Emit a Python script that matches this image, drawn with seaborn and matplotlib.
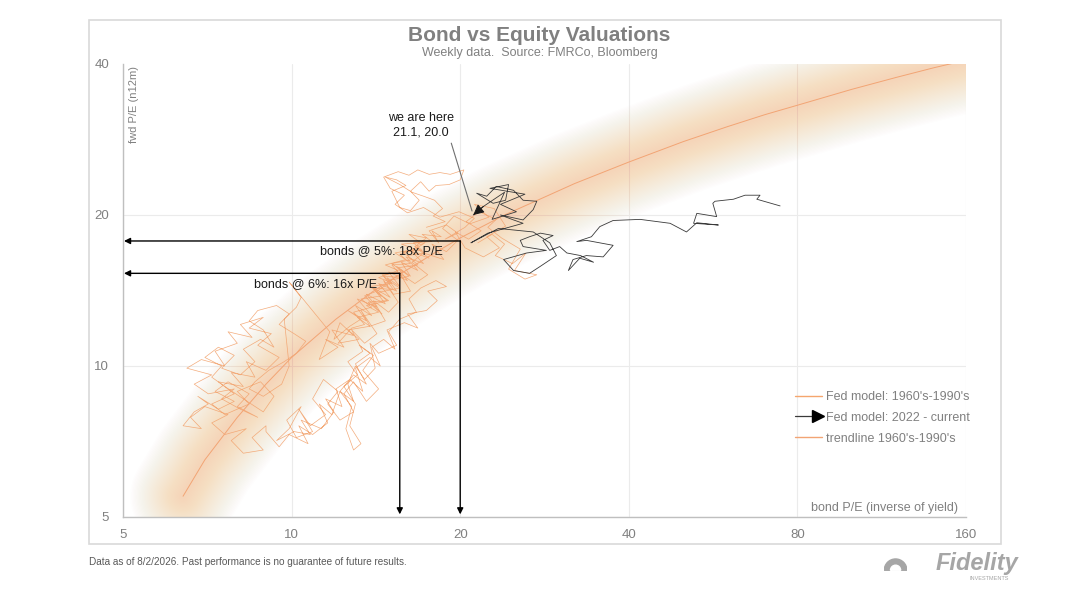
import numpy as np
import matplotlib
matplotlib.use("Agg")
import matplotlib.pyplot as plt
import seaborn as sns
from matplotlib.lines import Line2D
from matplotlib.patches import Rectangle, Wedge
from matplotlib.ticker import NullLocator
from matplotlib.legend_handler import HandlerLine2D

# ---- values (bond P/E = 1/yield, fwd P/E) ----
trend_x = [6.4, 7, 8, 9, 10, 12, 14, 16, 18, 20, 24, 28, 32, 40, 50, 60, 70, 80, 100, 120, 140, 160]
trend_y = [5.5, 6.5, 7.9, 9.2, 10.4, 12.4, 14.1, 15.5, 16.8, 18.0, 20.0, 21.6, 23.1, 25.5,
           28.0, 30.0, 31.7, 33.1, 35.6, 37.6, 39.3, 40.7]

fed60_x = [21.5, 22.8, 24.0, 23.1, 24.8, 26.2, 25.0, 27.4, 26.1, 24.4, 25.6, 23.7, 22.4, 23.2, 21.6, 20.5, 21.8,
           20.7, 19.6, 20.4, 22.0, 23.5, 22.3, 24.1, 23.0, 21.2, 22.5, 20.8, 19.5, 18.6, 19.8, 18.9, 17.8, 18.7]
fed60_y = [17.6, 18.3, 17.5, 16.6, 16.0, 16.8, 15.5, 15.2, 14.9, 15.6, 17.1, 18.0, 18.9, 19.6, 20.3, 19.4, 18.6,
           17.9, 18.5, 17.2, 16.5, 17.2, 18.1, 19.0, 20.6, 21.0, 19.8, 19.2, 19.9, 18.8, 17.8, 16.9, 17.5, 16.3]

fed70_x = [17.2, 16.4, 17.5, 16.6, 15.6, 16.3, 15.2, 14.6, 15.5, 14.9, 14.0, 14.7, 13.8, 13.3, 14.2, 13.5, 12.8, 13.4,
           12.6, 13.1, 12.4, 13.0, 12.7, 13.3, 12.9, 12.5, 12.8, 12.2, 12.9, 13.6, 13.0, 13.8, 13.2, 14.0, 13.4, 14.3,
           13.6, 12.9, 12.4, 12.9, 12.2, 11.6, 12.1, 11.4, 10.9, 11.5, 10.8, 10.3, 10.9, 10.2, 9.8, 10.4, 9.9, 9.4]
fed70_y = [16.8, 16.1, 15.2, 14.6, 15.3, 14.1, 13.9, 14.8, 13.4, 12.8, 13.5, 12.3, 12.0, 12.9, 11.6, 11.1, 11.8, 10.7,
           10.2, 9.6, 9.1, 8.4, 7.6, 7.0, 6.8, 7.5, 8.3, 8.9, 9.6, 9.2, 10.1, 10.6, 11.0, 10.5, 9.8, 9.0,
           8.5, 9.3, 8.8, 8.1, 7.8, 8.4, 8.9, 9.4, 8.6, 8.0, 7.6, 8.2, 7.4, 7.2, 7.8, 8.3, 7.5, 7.1]

fed77_x = [10.1, 10.8, 10.4, 11.3, 11.9, 11.5, 12.3, 12.0, 12.7, 13.4, 13.0, 13.8, 14.4, 13.9, 14.6, 15.3, 14.8, 15.9,
           16.8, 16.1, 17.4, 18.2, 17.5, 18.9, 18.1, 17.0, 16.2, 16.7, 15.6, 14.9, 15.4, 14.3, 13.8, 14.1, 13.5, 13.0,
           12.6, 12.9, 12.2, 11.8, 11.2, 11.6, 10.9, 10.3, 10.7, 9.9, 9.5, 9.0]
fed77_y = [7.4, 7.3, 7.8, 7.5, 8.1, 8.6, 8.3, 9.0, 9.4, 8.9, 9.9, 10.4, 10.0, 10.9, 11.3, 10.8, 11.8, 12.2,
           11.9, 12.7, 12.9, 13.5, 14.1, 14.4, 14.8, 14.3, 13.6, 12.8, 12.4, 11.7, 11.0, 10.6, 11.1, 9.9, 9.4, 10.0,
           9.2, 8.5, 8.9, 8.0, 8.4, 7.7, 7.3, 7.6, 7.0, 7.3, 6.9, 7.4]

fed80_x = [9.0, 8.5, 8.9, 8.2, 7.8, 8.3, 7.6, 7.2, 7.7, 7.0, 6.6, 6.9, 6.4, 6.7, 7.1, 6.8, 7.4, 7.9, 7.3, 7.7,
           8.4, 8.0, 8.7]
fed80_y = [7.6, 7.2, 6.8, 6.7, 7.1, 7.5, 7.3, 7.7, 8.0, 8.3, 7.9, 7.5, 7.6, 8.1, 8.4, 8.7, 8.2, 8.5, 8.9, 9.3,
           8.8, 8.3, 7.9]

fed82_x = [8.1, 7.5, 7.9, 7.1, 6.7, 7.2, 6.5, 6.9, 7.6, 7.3, 8.0, 7.7, 8.5, 8.1, 8.9, 8.4, 9.2, 8.7, 9.5, 9.0,
           8.3, 8.6, 7.8, 8.2, 7.4, 7.9, 7.2, 7.6, 8.4, 8.0, 8.8, 9.3, 8.9, 8.2]
fed82_y = [8.2, 8.6, 9.0, 8.8, 9.2, 9.6, 9.9, 10.3, 10.0, 10.7, 11.1, 11.7, 11.4, 12.1, 12.5, 11.9, 11.6, 11.0,
           10.4, 9.8, 10.2, 9.5, 9.7, 9.1, 9.3, 8.8, 8.4, 8.0, 8.4, 8.9, 9.3, 8.7, 8.1, 8.6]

fed85_x = [8.2, 7.6, 7.2, 7.5, 7.0, 7.4, 7.9, 7.5, 8.1, 8.6, 8.2, 8.8, 9.3, 8.9, 8.4, 8.7, 9.4, 9.9, 9.5, 10.1,
           10.6, 10.2, 9.7, 9.1, 8.6, 8.4, 8.9, 9.6, 9.9, 9.7, 10.2, 10.4, 9.9, 11.7]
fed85_y = [8.6, 9.1, 9.5, 10.0, 10.4, 10.9, 10.5, 9.9, 9.6, 10.2, 10.8, 11.3, 10.9, 11.8, 12.3, 12.9, 13.2, 12.7,
           12.1, 11.6, 11.2, 10.6, 10.2, 9.8, 9.3, 9.0, 8.7, 9.2, 10.0, 12.4, 13.1, 13.7, 14.7, 11.7]

fed88_x = [11.2, 12.1, 11.5, 12.4, 11.8, 12.9, 12.2, 11.9, 12.7, 13.3, 12.6, 13.6, 13.0, 13.9, 13.1, 14.2, 13.6, 14.7,
           14.0, 15.0, 14.3, 15.4, 14.8, 15.6, 14.9, 16.1, 15.4, 16.3, 15.7, 16.8, 16.0, 17.2, 16.4, 17.6, 16.6, 17.3,
           16.5, 15.6, 16.3, 15.1, 15.8, 14.6, 15.2, 14.0, 14.8, 13.7, 14.5, 13.5, 14.2, 15.0, 14.3, 15.5, 14.7, 16.0,
           15.3, 16.6, 15.7, 17.0, 16.2, 17.4]
fed88_y = [10.3, 10.9, 11.3, 10.9, 11.8, 11.5, 12.2, 11.3, 12.0, 12.4, 12.9, 12.3, 13.2, 12.6, 13.6, 13.1, 13.9, 13.3,
           14.3, 13.7, 14.6, 14.1, 15.0, 14.4, 15.4, 14.8, 15.8, 15.1, 16.1, 15.5, 16.5, 16.0, 16.9, 16.4, 17.3, 17.6,
           17.0, 16.7, 16.0, 15.9, 15.0, 15.1, 14.2, 14.3, 13.5, 13.4, 12.7, 13.8, 14.1, 14.7, 15.0, 15.5, 15.9, 16.3,
           16.8, 17.1, 17.5, 17.6, 18.3, 18.0]

fed93_x = [16.6, 17.3, 16.1, 16.8, 15.5, 16.2, 14.9, 15.6, 14.2, 14.9, 13.6, 14.3, 13.1, 13.8, 12.6, 13.2, 12.1, 12.8,
           13.5, 12.9, 13.9, 13.3, 14.5, 13.8, 15.1, 14.5, 15.8, 15.1, 16.4, 15.8, 17.1, 16.5, 17.8, 17.1, 18.5, 17.8]
fed93_y = [17.3, 16.8, 16.6, 15.9, 15.7, 15.1, 14.8, 14.3, 14.0, 13.5, 13.2, 12.8, 12.5, 12.0, 11.8, 11.3, 11.1, 11.9,
           12.1, 12.8, 13.1, 13.6, 13.8, 14.4, 14.6, 15.2, 15.4, 16.0, 16.3, 16.9, 17.0, 17.6, 17.7, 18.3, 18.1, 18.6]

fed95_x = [18.3, 17.6, 18.9, 19.8, 18.8, 20.4, 21.2, 19.9, 18.4, 17.2, 16.1, 15.3, 15.9, 15.0, 14.6, 15.5, 16.2, 16.8,
           17.6, 18.4, 19.2, 20.3, 20.0, 19.1, 18.1, 17.6, 17.0, 16.3, 16.9, 16.3, 15.6, 15.1, 16.0, 15.4, 14.7, 15.6,
           16.4, 17.2, 18.0, 18.6, 17.9, 18.8, 17.4]
fed95_y = [17.6, 18.6, 19.1, 18.4, 17.9, 18.9, 19.7, 20.3, 19.8, 20.7, 20.2, 21.0, 21.9, 22.6, 23.8, 24.4, 24.0, 24.6,
           24.1, 24.3, 24.1, 24.6, 23.5, 23.0, 22.9, 22.3, 23.3, 22.3, 21.4, 20.4, 20.7, 22.3, 22.9, 23.5, 23.8, 23.0,
           22.2, 21.8, 21.4, 20.6, 19.9, 19.4, 18.9]

now_x = [74.5, 67.7, 68.6, 64.5, 61.5, 57.0, 56.5, 57.4, 52.9, 52.2, 57.8, 52.9, 50.7, 47.4, 41.9, 37.5, 35.5, 34.3,
         32.3, 33.6, 37.5, 36.0, 33.6, 31.8, 31.2, 32.7, 34.6, 32.8, 31.0, 30.1, 28.9, 28.1, 29.3, 27.8, 26.6, 25.6,
         25.9, 28.5, 26.3, 23.9, 24.9, 26.6, 27.8, 29.7, 28.9, 27.0, 23.4, 20.9, 22.4, 25.9, 24.9, 23.6, 25.9, 27.0,
         27.4, 25.9, 24.9, 23.2, 22.3, 21.4, 22.9, 24.1, 24.4, 22.6, 26.1, 23.6, 25.2, 22.8, 24.0, 22.0, 21.1]
now_y = [20.85, 21.5, 21.9, 21.9, 21.5, 21.3, 21.1, 19.85, 20.15, 19.25, 19.1, 19.3, 18.5, 19.25, 19.6, 19.5, 18.96,
         18.1, 17.7, 17.8, 17.4, 16.5, 16.6, 16.3, 15.5, 16.4, 16.1, 16.6, 16.8, 17.3, 17.0, 17.8, 18.2, 18.4, 18.1,
         17.8, 17.3, 17.0, 16.8, 16.3, 15.5, 15.3, 15.8, 16.6, 17.6, 18.5, 18.8, 17.6, 18.4, 19.25, 19.55, 20.0, 19.55,
         20.5, 21.3, 21.4, 22.4, 22.8, 21.8, 22.1, 21.1, 21.4, 23.0, 22.6, 22.0, 21.0, 20.3, 19.6, 22.2, 20.8, 20.0]

# guide arrows (as drawn on the chart)
bonds5_x, bonds5_y = 20.0, 17.75
bonds6_x, bonds6_y = 15.6, 15.3

x_ticks = [5, 10, 20, 40, 80, 160]
y_ticks = [5, 10, 20, 40]

fed_x = fed60_x + fed70_x + fed77_x + fed80_x + fed82_x + fed85_x + fed88_x + fed93_x + fed95_x
fed_y = fed60_y + fed70_y + fed77_y + fed80_y + fed82_y + fed85_y + fed88_y + fed93_y + fed95_y

GRAY = "#808080"
ORANGE = "#F2A36E"
GLOW = "#F5A66E"
TREND = "#F2A474"
BLACK_LINE = "#3a3a3a"


class ArrowLineHandler(HandlerLine2D):
    def create_artists(self, legend, orig_handle, xdescent, ydescent, width, height, fontsize, trans):
        y = (height - ydescent) / 2.0
        line = Line2D([-xdescent, width - xdescent], [y, y], color=BLACK_LINE, lw=0.9)
        tip = Line2D([width - xdescent - 3], [y], marker='>', markersize=8, color='black', linestyle='None')
        line.set_transform(trans)
        tip.set_transform(trans)
        return [line, tip]


sns.set_theme(style="white")
plt.rcParams['font.family'] = ['Liberation Sans', 'DejaVu Sans']

fig = plt.figure(figsize=(10.79, 6.07), dpi=100)
fig.patches.append(Rectangle((0.0825, 0.1038), 0.845, 0.863, transform=fig.transFigure,
                             fill=False, edgecolor="#d9d9d9", lw=1.2))

ax = fig.add_axes([0.114, 0.1483, 0.7813, 0.7463])
ax.set_xscale('log', base=2)
ax.set_yscale('log', base=2)
ax.set_xlim(5, 160)
ax.set_ylim(5, 40)

# soft, wide band around the trendline
for w in np.linspace(76, 4, 40):
    ax.plot(trend_x, trend_y, color=GLOW, lw=w, alpha=0.011, solid_capstyle='round', zorder=1)

sns.lineplot(x=fed_x, y=fed_y, sort=False, estimator=None, color=ORANGE, lw=0.5, alpha=0.9, ax=ax, zorder=3)
sns.lineplot(x=trend_x, y=trend_y, sort=False, estimator=None, color=TREND, lw=0.7, ax=ax, zorder=4)
sns.lineplot(x=now_x, y=now_y, sort=False, estimator=None, color=BLACK_LINE, lw=0.6, ax=ax, zorder=5)
ax.annotate("", xy=(now_x[-1], now_y[-1]), xytext=(now_x[-2], now_y[-2]),
            arrowprops=dict(arrowstyle='-|>', color='#1a1a1a', lw=0.7, mutation_scale=16, shrinkA=0, shrinkB=0),
            zorder=6)

# grid / axes styling
ax.set_xticks(x_ticks)
ax.set_xticklabels([str(t) for t in x_ticks])
ax.set_yticks(y_ticks)
ax.set_yticklabels([str(t) for t in y_ticks])
ax.xaxis.set_minor_locator(NullLocator())
ax.yaxis.set_minor_locator(NullLocator())
ax.grid(True, color="#ebebeb", lw=0.8, zorder=0)
ax.set_axisbelow(True)
ax.yaxis.get_gridlines()[-1].set_visible(False)
for s in ['top', 'right']:
    ax.spines[s].set_visible(False)
for s in ['left', 'bottom']:
    ax.spines[s].set_color("#bfbfbf")
    ax.spines[s].set_linewidth(1.0)
ax.tick_params(axis='both', which='major', direction='inout', length=6, width=0.8, color="#bfbfbf",
               labelcolor=GRAY, labelsize=9.5)
ax.tick_params(axis='x', pad=6)
ax.tick_params(axis='y', pad=7)
ax.set_xlabel("")
ax.set_ylabel("")

ax.text(0.013, 0.995, "fwd P/E (n12m)", rotation=90, ha='center', va='top', transform=ax.transAxes,
        color=GRAY, fontsize=8)
ax.text(0.99, 0.02, "bond P/E (inverse of yield)", ha='right', va='center', transform=ax.transAxes,
        color=GRAY, fontsize=9)

# guide arrows
arrow_kw = dict(arrowstyle='-|>', color='black', lw=1.0, mutation_scale=9, shrinkA=0, shrinkB=0)
for bx, by in [(bonds5_x, bonds5_y), (bonds6_x, bonds6_y)]:
    ax.annotate("", xy=(5.02, by), xytext=(bx, by), arrowprops=arrow_kw, zorder=7)
    ax.annotate("", xy=(bx, 5.06), xytext=(bx, by), arrowprops=arrow_kw, zorder=7)
ax.text(18.6, 16.95, "bonds @ 5%: 18x P/E", ha='right', va='center', fontsize=9, color='#1a1a1a', zorder=8)
ax.text(14.2, 14.57, "bonds @ 6%: 16x P/E", ha='right', va='center', fontsize=9, color='#1a1a1a', zorder=8)

ax.annotate("we are here\n21.1, 20.0", xy=(now_x[-1], now_y[-1]), xytext=(17.0, 30.2), textcoords='data',
            ha='center', va='center', fontsize=9, color='#1a1a1a', linespacing=1.3,
            arrowprops=dict(arrowstyle='-', color='#707070', lw=0.8, relpos=(1.0, 0.3), shrinkA=1, shrinkB=3,
                            connectionstyle='angle,angleA=0,angleB=107,rad=0'), zorder=8)

# legend
handles = [Line2D([], [], color=GLOW, lw=1.0), Line2D([], [], color=BLACK_LINE), Line2D([], [], color=TREND, lw=1.0)]
labels = ["Fed model: 1960's-1990's", "Fed model: 2022 - current", "trendline 1960's-1990's"]
leg = ax.legend(handles, labels, loc='upper left', bbox_to_anchor=(0.797, 0.278), frameon=False,
                fontsize=9, handlelength=2.2, handletextpad=0.3, labelspacing=0.7, borderpad=0,
                borderaxespad=0, handler_map={handles[1]: ArrowLineHandler()})
for t in leg.get_texts():
    t.set_color(GRAY)

# titles and footer
fig.text(0.5, 0.942, "Bond vs Equity Valuations", ha='center', va='center', fontsize=15,
         fontweight='bold', color=GRAY)
fig.text(0.5, 0.912, "Weekly data.  Source: FMRCo, Bloomberg", ha='center', va='center', fontsize=9, color=GRAY)
fig.text(0.0825, 0.074, "Data as of 8/2/2026. Past performance is no guarantee of future results.",
         ha='left', va='center', fontsize=7.2, color="#595959")

# logo
fig.text(0.944, 0.071, "Fidelity", ha='right', va='center', fontsize=17, fontweight='heavy',
         fontstyle='italic', color="#a6a6a6")
fig.text(0.935, 0.047, "INVESTMENTS", ha='right', va='center', fontsize=4, color="#a6a6a6")
lax = fig.add_axes([0.819, 0.048, 0.022, 0.039])
lax.set_aspect('equal')
lax.add_patch(Wedge((0, 0), 1.0, 0, 180, color="#a6a6a6"))
lax.add_patch(Wedge((0, 0), 0.45, 0, 180, color="white"))
lax.set_xlim(-1.05, 1.05)
lax.set_ylim(-0.3, 1.05)
lax.axis('off')

fig.savefig("out.png", dpi=100)
